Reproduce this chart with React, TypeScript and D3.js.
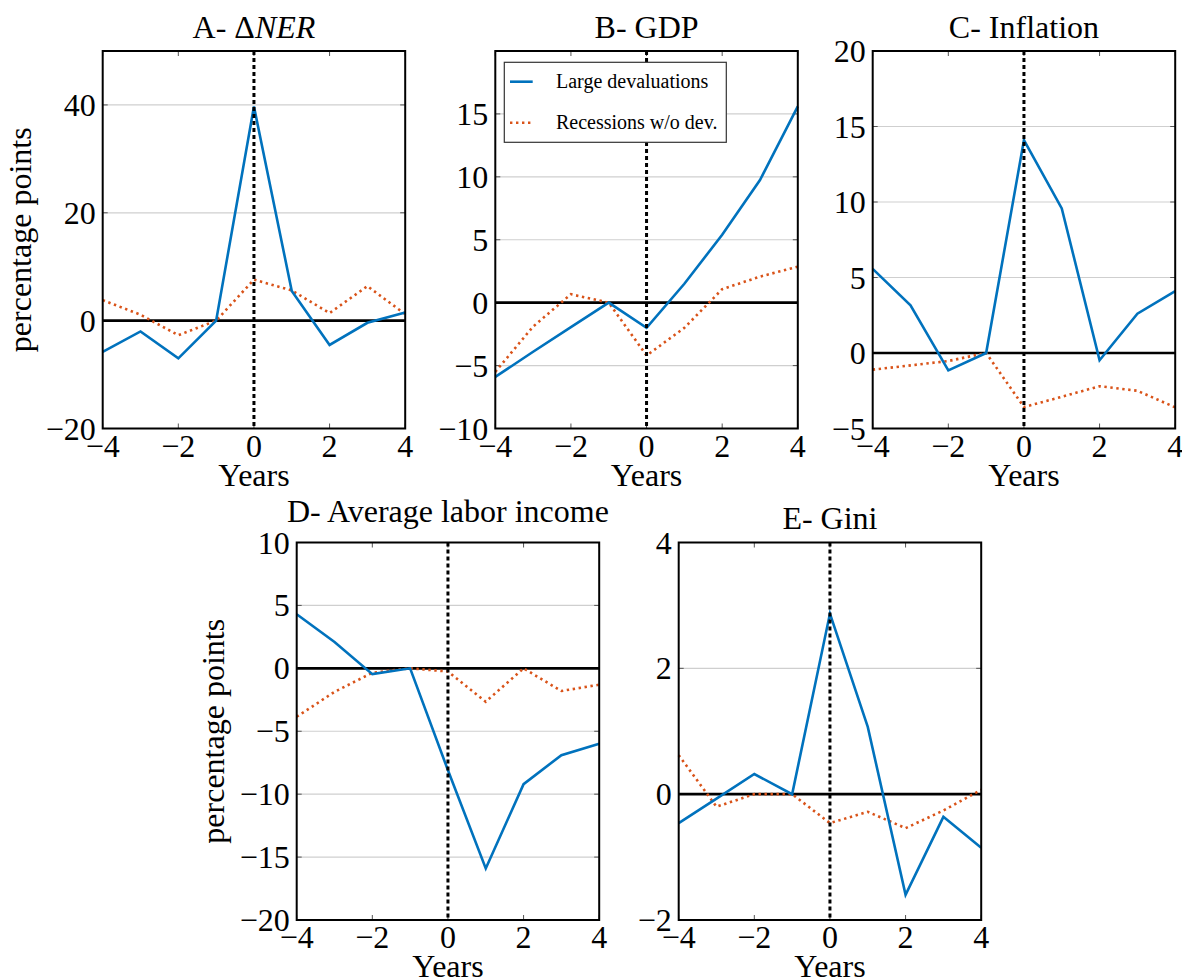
import * as d3 from "d3";

const YEARS = [-4, -3, -2, -1, 0, 1, 2, 3, 4];
const X_TICKS = [-4, -2, 0, 2, 4];

const NER_DEV = [-5.8, -2.0, -7.0, 0, 39.7, 5.5, -4.5, -0.4, 1.5];
const NER_REC = [3.8, 1.1, -2.7, 0, 7.6, 5.6, 1.4, 6.4, 1.2];
const GDP_DEV = [-5.9, -3.9, -1.95, 0, -2.0, 1.5, 5.4, 9.75, 15.6];
const GDP_REC = [-5.5, -1.9, 0.67, 0, -4.2, -2.0, 1.07, 2.07, 2.86];
const INF_DEV = [5.57, 3.16, -1.15, 0, 14.1, 9.57, -0.48, 2.6, 4.1];
const INF_REC = [-1.1, -0.82, -0.53, 0, -3.58, -2.9, -2.2, -2.5, -3.6];
const LAB_DEV = [4.3, 2.1, -0.46, 0, -8.1, -15.9, -9.2, -6.9, -6.0];
const LAB_REC = [-3.85, -1.87, -0.35, 0, -0.25, -2.65, 0, -1.8, -1.3];
const GINI_DEV = [-0.46, -0.07, 0.32, 0, 2.87, 1.07, -1.6, -0.36, -0.85];
const GINI_REC = [0.62, -0.2, 0, 0, -0.46, -0.28, -0.54, -0.26, 0.07];

const SERIES_LABELS = ["Large devaluations", "Recessions w/o dev."];

const BLUE = "#0072bd";
const ORANGE = "#d95319";
const FONT = "'Liberation Serif', 'DejaVu Serif', serif";
const FS = 32;

interface Panel {
  key: string;
  title: React.ReactNode;
  dev: number[];
  rec: number[];
  domain: [number, number];
  ticks: number[];
  left: number;
  top: number;
  titleY: number;
  ylabel?: boolean;
  legend?: boolean;
}

const W = 302.5;
const H = 377.5;

const PANELS: Panel[] = [
  {
    key: "A",
    title: (
      <>
        A- Δ<tspan fontStyle="italic">NER</tspan>
      </>
    ),
    dev: NER_DEV, rec: NER_REC, domain: [-20, 50], ticks: [-20, 0, 20, 40],
    left: 102.7, top: 51, titleY: 37.5, ylabel: true,
  },
  {
    key: "B", title: "B- GDP",
    dev: GDP_DEV, rec: GDP_REC, domain: [-10, 20], ticks: [-10, -5, 0, 5, 10, 15],
    left: 495.3, top: 51, titleY: 37.5, legend: true,
  },
  {
    key: "C", title: "C- Inflation",
    dev: INF_DEV, rec: INF_REC, domain: [-5, 20], ticks: [-5, 0, 5, 10, 15, 20],
    left: 872.7, top: 51, titleY: 37.5,
  },
  {
    key: "D", title: "D- Average labor income",
    dev: LAB_DEV, rec: LAB_REC, domain: [-20, 10], ticks: [-20, -15, -10, -5, 0, 5, 10],
    left: 296.7, top: 542.5, titleY: 521.5, ylabel: true,
  },
  {
    key: "E", title: "E- Gini",
    dev: GINI_DEV, rec: GINI_REC, domain: [-2, 4], ticks: [-2, 0, 2, 4],
    left: 678.7, top: 542.5, titleY: 529,
  },
];

const fmt = (v: number) => (v < 0 ? "\u2212" + Math.abs(v) : String(v));

function PanelChart({ p }: { p: Panel }) {
  const x = d3.scaleLinear().domain([-4, 4]).range([0, W]);
  const y = d3.scaleLinear().domain(p.domain).range([H, 0]);
  const line = d3
    .line<number>()
    .x((_, i) => x(YEARS[i]))
    .y((d) => y(d));

  return (
    <g transform={`translate(${p.left},${p.top})`}>
      {/* grid */}
      {p.ticks
        .filter((t) => t !== 0 && t !== p.domain[0] && t !== p.domain[1])
        .map((t) => (
          <line key={t} x1={0} x2={W} y1={y(t)} y2={y(t)} stroke="#cfcfcf" strokeWidth={1.2} />
        ))}
      {/* inner ticks */}
      {X_TICKS.map((t) => (
        <g key={"xt" + t} stroke="#555" strokeWidth={1}>
          <line x1={x(t)} x2={x(t)} y1={0} y2={5} />
          <line x1={x(t)} x2={x(t)} y1={H} y2={H - 5} />
        </g>
      ))}
      {p.ticks.map((t) => (
        <g key={"yt" + t} stroke="#555" strokeWidth={1}>
          <line x1={0} x2={5} y1={y(t)} y2={y(t)} />
          <line x1={W} x2={W - 5} y1={y(t)} y2={y(t)} />
        </g>
      ))}
      {/* zero line */}
      <line x1={0} x2={W} y1={y(0)} y2={y(0)} stroke="#000" strokeWidth={2.6} />
      {/* series */}
      <path d={line(p.rec) ?? ""} fill="none" stroke={ORANGE} strokeWidth={2.6} strokeDasharray="2.4 3.6" />
      <path d={line(p.dev) ?? ""} fill="none" stroke={BLUE} strokeWidth={2.6} />
      {/* event line */}
      <line x1={x(0)} x2={x(0)} y1={0} y2={H} stroke="#000" strokeWidth={3} strokeDasharray="4 3" />
      {/* frame */}
      <rect x={0} y={0} width={W} height={H} fill="none" stroke="#000" strokeWidth={2} />

      {p.legend && (
        <g>
          <rect x={9} y={11.3} width={222} height={80} fill="#fff" stroke="#333" strokeWidth={1.2} />
          <line x1={14.7} x2={37.4} y1={30.7} y2={30.7} stroke={BLUE} strokeWidth={2.6} />
          <line x1={14.7} x2={37.4} y1={71.7} y2={71.7} stroke={ORANGE} strokeWidth={2.6} strokeDasharray="2.4 3.6" />
          <text x={60.7} y={37} fontSize={20} fontFamily={FONT} fill="#000">{SERIES_LABELS[0]}</text>
          <text x={60.7} y={78} fontSize={20} fontFamily={FONT} fill="#000">{SERIES_LABELS[1]}</text>
        </g>
      )}

      {/* tick labels */}
      {p.ticks.map((t) => (
        <text
          key={"yl" + t}
          x={-7}
          y={y(t) + 11}
          textAnchor="end"
          fontSize={FS}
          fontFamily={FONT}
          fill="#000"
        >
          {fmt(t)}
        </text>
      ))}
      {X_TICKS.map((t) => (
        <text
          key={"xl" + t}
          x={x(t)}
          y={H + 28}
          textAnchor="middle"
          fontSize={FS}
          fontFamily={FONT}
          fill="#000"
        >
          {fmt(t)}
        </text>
      ))}
      <text x={W / 2} y={H + 57} textAnchor="middle" fontSize={FS} fontFamily={FONT} fill="#000">
        Years
      </text>
      <text x={W / 2} y={p.titleY - p.top} textAnchor="middle" fontSize={FS} fontFamily={FONT} fill="#000">
        {p.title}
      </text>
      {p.ylabel && (
        <text
          transform={`translate(${-p.left + (p.key === "A" ? 31 : 224)},${H / 2}) rotate(-90)`}
          textAnchor="middle"
          fontSize={FS}
          fontFamily={FONT}
          fill="#000"
        >
          percentage points
        </text>
      )}
    </g>
  );
}

export default function App() {
  return (
    <svg
      width={1182}
      height={979}
      style={{ position: "absolute", left: 0, top: 0, background: "#fff" }}
    >
      <rect width={1182} height={979} fill="#fff" />
      {PANELS.map((p) => (
        <PanelChart key={p.key} p={p} />
      ))}
    </svg>
  );
}
